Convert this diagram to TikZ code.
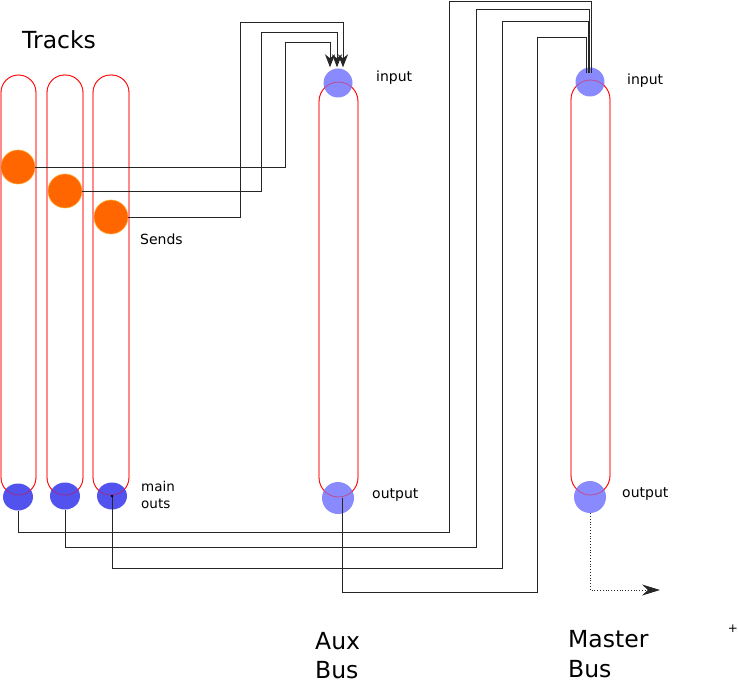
\documentclass[tikz,border=0pt]{standalone}
\usepackage{fontspec}
\setmainfont{DejaVu Sans}
\usetikzlibrary{arrows.meta,calc,shapes.geometric}
\definecolor{sendor}{HTML}{FF6600}
\definecolor{sendrim}{HTML}{FFAA33}
\definecolor{outblue}{HTML}{5252EE}
\definecolor{busblue}{HTML}{8A8AFF}
\tikzset{
  pill/.style={draw=red, line width=0.8pt, rounded corners=17.5pt},
  buspill/.style={draw=red, line width=0.8pt, rounded corners=19.5pt},
  senddot/.style={circle, fill=sendor, draw=sendrim, line width=0.6pt, minimum size=34pt, inner sep=0pt},
  outdot/.style={ellipse, fill=outblue, minimum width=30pt, minimum height=27pt, inner sep=0pt},
  busdot/.style={circle, fill=busblue, minimum size=29pt, inner sep=0pt},
  busdotbig/.style={circle, fill=busblue, minimum size=32pt, inner sep=0pt},
  wire/.style={draw=black!85, line width=0.9pt},
  sendwire/.style={wire, -{Stealth[length=13pt,width=10pt,inset=4pt]}},
  small/.style={font=\fontsize{14}{16}\selectfont, inner sep=0pt},
  big/.style={font=\fontsize{23.5}{30}\selectfont, inner sep=0pt, align=left},
}
\begin{document}
\begin{tikzpicture}[x=1pt,y=-1pt]
\useasboundingbox (0,0) rectangle (738,684);
% pills
\draw[pill] (1,75) rectangle (36,495);
\draw[pill] (47,75) rectangle (83,495);
\draw[pill] (93,75) rectangle (129,495);
\draw[buspill] (319,82) rectangle (358,497);
\draw[buspill] (571,80) rectangle (610,495);
% circles
\node[senddot] (s1) at (18,167) {};
\node[senddot] (s2) at (65,191) {};
\node[senddot] (s3) at (111,217) {};
\node[outdot] (o1) at (18,497) {};
\node[outdot] (o2) at (65,496) {};
\node[outdot] (o3) at (112,496) {};
\node[busdot] (ai) at (338,83) {};
\node[busdotbig] (ao) at (338,498) {};
\node[busdot] (mi) at (590,82) {};
\node[busdotbig] (mo) at (590,497) {};
% pill outlines seen through the circles
\begin{scope}[opacity=0.45]
\draw[pill] (1,75) rectangle (36,495);
\draw[pill] (47,75) rectangle (83,495);
\draw[pill] (93,75) rectangle (129,495);
\draw[buspill] (319,82) rectangle (358,497);
\draw[buspill] (571,80) rectangle (610,495);
\end{scope}
% labels
\node[big, anchor=base west] (tracks) at (22,49) {Tracks};
\node[small, anchor=base west] (sends) at (140,245) {Sends};
\node[small, anchor=north west, align=left, font=\fontsize{13.5}{17}\selectfont] (mainouts) at (141,481) {main\\outs};
\node[small, anchor=base west] (ain) at (376,82) {input};
\node[small, anchor=base west] (min) at (627,85) {input};
\node[small, anchor=base west] (aout) at (372,498) {output};
\node[small, anchor=base west] (mout) at (622,497) {output};
\node[big, anchor=north west, font=\fontsize{23.5}{29}\selectfont] (auxbus) at (315,632) {Aux\\Bus};
\node[big, anchor=north west] (masterbus) at (568,630) {Master\\Bus};
\node[font=\fontsize{12}{13}\selectfont, inner sep=0pt] (plus) at (733,629) {+};
% sends
\draw[sendwire] (s1.east) -| (285,42) -| ([xshift=-8pt,yshift=1pt]ai.north);
\draw[sendwire] (s2.east) -| (261,32) -| ([xshift=-1pt,yshift=1pt]ai.north);
\draw[sendwire] (s3.east) -| (240,22) -| ([xshift=5pt,yshift=1pt]ai.north);
% main outs
\draw[wire] (o1.south) |- (449,532) |- (591,1) -- ([xshift=1pt,yshift=-6pt]mi.north);
\draw[wire] (o2.south) |- (476,547) |- (589,9) -- ([xshift=-1pt,yshift=-6pt]mi.north);
\draw[wire] (o3.center) |- (502,568) |- (588,21) -- ([xshift=-2pt,yshift=-6pt]mi.north);
\fill (o3.center) circle (1.3pt);
\draw[wire] ([xshift=4pt]ao.center) |- (537,592) |- (586,37) -- ([xshift=-4pt,yshift=-6pt]mi.north);
% master out
\draw[draw=black!85, line width=0.8pt, dotted, -{Stealth[length=18pt,width=11pt,inset=6pt]}] (mo.south) |- (660,590);
\end{tikzpicture}
\end{document}
